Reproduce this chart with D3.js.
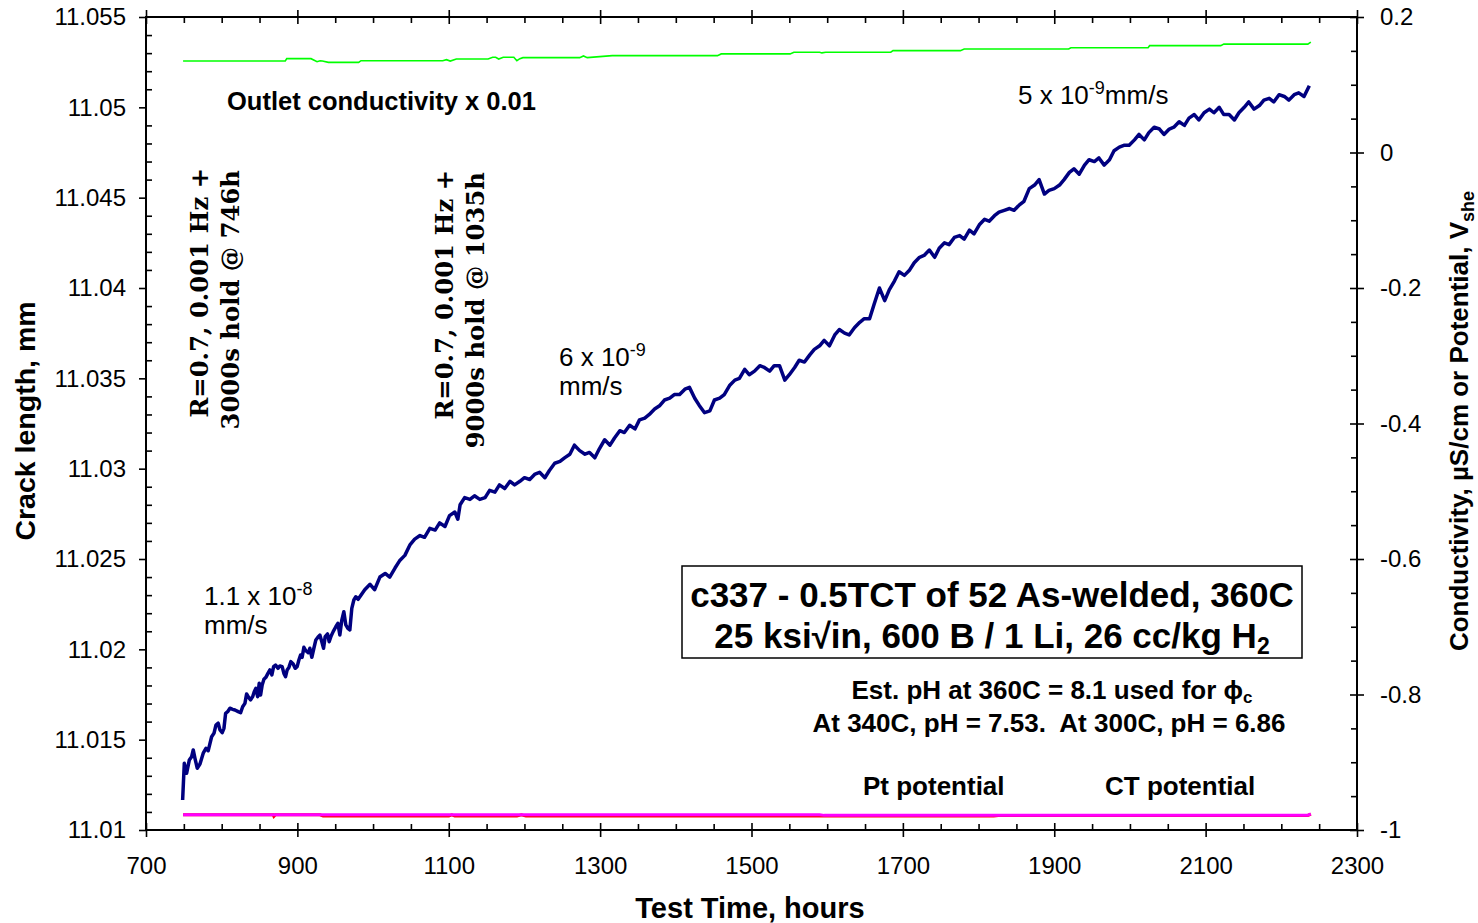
<!DOCTYPE html>
<html>
<head>
<meta charset="utf-8">
<script src="https://cdn.jsdelivr.net/npm/d3@7"></script>
<style>
  body { margin: 0; background: #fff; }
  svg { display: block; }
  text { font-family: "Liberation Sans", Arial, sans-serif; fill: #000; }
</style>
</head>
<body>
<svg id="chart" width="1478" height="923"></svg>
<script>
// ---- Crack length (mm) vs test time (hours) ----
const crackHours = [
  748.4, 750.6, 753.7, 757.2, 760.3, 762.4, 764.7, 767.7, 771.3, 775.6,
  779.2, 782.2, 786.7, 789.8, 792.4, 795.4, 797.7, 800.7, 803.0, 805.2,
  807.9, 810.9, 814.5, 817.5, 821.8, 825.0, 827.7, 830.7, 832.9, 835.6,
  838.2, 840.9, 843.0, 845.2, 847.5, 849.6, 851.4, 853.5, 855.8, 858.4,
  861.1, 863.7, 866.3, 868.6, 871.2, 874.3, 876.9, 879.9, 882.2, 884.4,
  886.5, 888.8, 891.4, 894.5, 897.1, 899.7, 902.0, 904.2, 906.3, 908.6,
  911.2, 914.3, 916.5, 919.1, 921.8, 924.4, 927.1, 929.7, 932.3, 934.6,
  936.7, 939.9, 942.0, 944.6, 947.3, 950.8, 953.5, 956.1, 958.7, 961.4,
  964.0, 966.7, 969.3, 971.9, 974.6, 977.2, 980.3,
  989, 996, 1002, 1009, 1016, 1022, 1029, 1035, 1042, 1049,
  1055, 1062, 1068, 1075, 1082, 1088, 1095, 1101, 1108, 1112,
  1115, 1121, 1128, 1134, 1141, 1148, 1154, 1161, 1167, 1174,
  1181, 1187, 1194, 1200, 1207, 1214, 1220, 1227, 1233, 1240,
  1247, 1253, 1260, 1266, 1273, 1280, 1286, 1293, 1299, 1306,
  1313, 1319, 1326, 1332, 1339, 1346, 1352, 1359, 1365, 1372,
  1379, 1385, 1392, 1398, 1405, 1412, 1418, 1425, 1431, 1438,
  1445, 1451, 1458, 1464, 1471, 1478, 1484, 1491, 1497, 1504,
  1511, 1517, 1524, 1530, 1537, 1544, 1550, 1557, 1563, 1570,
  1577, 1583, 1590, 1596, 1603, 1610, 1616, 1623, 1629, 1636,
  1643, 1649, 1656, 1662, 1669, 1676, 1682, 1689, 1695, 1702,
  1709, 1715, 1722, 1728, 1735, 1742, 1748, 1755, 1761, 1768,
  1775, 1781, 1788, 1794, 1801, 1808, 1814, 1821, 1827, 1834,
  1841, 1847, 1854, 1860, 1867, 1874, 1880, 1887, 1893, 1900,
  1907, 1913, 1920, 1926, 1933, 1940, 1946, 1953, 1959, 1966,
  1973, 1979, 1986, 1992, 1999, 2006, 2012, 2019, 2025, 2032,
  2039, 2045, 2052, 2058, 2065, 2072, 2078, 2085, 2091, 2098,
  2105, 2111, 2118, 2124, 2131, 2138, 2144, 2151, 2157, 2164,
  2171, 2177, 2184, 2190, 2197, 2204, 2210, 2217, 2223, 2230,
  2237
];
const crackLength = [
  11.01166, 11.01369, 11.01314, 11.01387, 11.01406, 11.01443, 11.01397, 11.01342, 11.01365, 11.01425,
  11.01452, 11.01439, 11.01516, 11.01535, 11.01581, 11.01591, 11.01554, 11.01539, 11.01563, 11.01646,
  11.01655, 11.01674, 11.01668, 11.01664, 11.01655, 11.01649, 11.01682, 11.01701, 11.01753, 11.01734,
  11.01720, 11.01738, 11.01765, 11.01784, 11.01738, 11.01812, 11.01747, 11.01803, 11.01834, 11.01845,
  11.01867, 11.01886, 11.01858, 11.01904, 11.01913, 11.01895, 11.01908, 11.01904, 11.01867, 11.01849,
  11.01886, 11.01900, 11.01932, 11.01919, 11.01895, 11.01904, 11.01941, 11.01969, 11.01956, 11.02011,
  11.01992, 11.01981, 11.02006, 11.01956, 11.02006, 11.02052, 11.02067, 11.02079, 11.02042, 11.02006,
  11.02070, 11.02085, 11.02042, 11.02074, 11.02098, 11.02125, 11.02144, 11.02079, 11.02162, 11.02208,
  11.02135, 11.02116, 11.02107, 11.02227, 11.02273, 11.02291, 11.02277,
  11.0233, 11.0236, 11.0233, 11.0240, 11.0242, 11.0240, 11.0245, 11.0249, 11.0252, 11.0258,
  11.0261, 11.0263, 11.0262, 11.0267, 11.0266, 11.0270, 11.0268, 11.0274, 11.0276, 11.0272,
  11.0280, 11.0284, 11.0283, 11.0285, 11.0283, 11.0284, 11.0288, 11.0287, 11.0291, 11.0289,
  11.0293, 11.0291, 11.0293, 11.0295, 11.0294, 11.0297, 11.0298, 11.0295, 11.0299, 11.0303,
  11.0304, 11.0306, 11.0308, 11.0313, 11.0310, 11.0308, 11.0309, 11.0306, 11.0311, 11.0316,
  11.0313, 11.0317, 11.0321, 11.0320, 11.0324, 11.0322, 11.0327, 11.0328, 11.0330, 11.0333,
  11.0335, 11.0338, 11.0339, 11.0341, 11.0341, 11.0344, 11.0345, 11.0339, 11.0335, 11.0331,
  11.0332, 11.0338, 11.0339, 11.0341, 11.0346, 11.0349, 11.0350, 11.0355, 11.0352, 11.0354,
  11.0357, 11.0356, 11.0354, 11.0357, 11.0357, 11.0349, 11.0352, 11.0356, 11.0360, 11.0359,
  11.0363, 11.0366, 11.0368, 11.0371, 11.0368, 11.0374, 11.0377, 11.0375, 11.0374, 11.0378,
  11.0381, 11.0383, 11.0383, 11.0391, 11.0400, 11.0393, 11.0399, 11.0404, 11.0409, 11.0407,
  11.0410, 11.0414, 11.0417, 11.0418, 11.0421, 11.0417, 11.0422, 11.0425, 11.0424, 11.0428,
  11.0429, 11.0427, 11.0432, 11.0430, 11.0435, 11.0438, 11.0437, 11.0440, 11.0442, 11.0443,
  11.0444, 11.0443, 11.0446, 11.0448, 11.0455, 11.0457, 11.0460, 11.0452, 11.0454, 11.0455,
  11.0457, 11.0460, 11.0464, 11.0466, 11.0463, 11.0468, 11.0471, 11.0470, 11.0472, 11.0468,
  11.0471, 11.0476, 11.0478, 11.0479, 11.0479, 11.0482, 11.0485, 11.0482, 11.0486, 11.0489,
  11.0488, 11.0485, 11.0488, 11.0489, 11.0492, 11.0490, 11.0494, 11.0496, 11.0493, 11.0497,
  11.0499, 11.0497, 11.0500, 11.0496, 11.0496, 11.0493, 11.0497, 11.0500, 11.0503, 11.0499,
  11.0501, 11.0504, 11.0505, 11.0503, 11.0507, 11.0506, 11.0504, 11.0507, 11.0508, 11.0506,
  11.0512
];

// ---- Outlet conductivity x 0.01 (right axis) ----
const condHours = [
  749, 884, 886, 918, 926, 930, 933, 941, 981, 984,
  1092, 1097, 1102, 1110, 1152, 1158, 1162, 1166, 1172, 1186,
  1190, 1194, 1198, 1273, 1278, 1283, 1316, 1455, 1460, 1551,
  1556, 1590, 1593, 1598, 1684, 1687, 1776, 1781, 1919, 1922,
  2024, 2026, 2120, 2124, 2235, 2239
];
const condValue = [
  0.1350, 0.1350, 0.1385, 0.1385, 0.1340, 0.1355, 0.1350, 0.1330, 0.1330, 0.1355,
  0.1355, 0.1370, 0.1350, 0.1380, 0.1380, 0.1405, 0.1405, 0.1380, 0.1405, 0.1405,
  0.1355, 0.1385, 0.1400, 0.1400, 0.1425, 0.1400, 0.1430, 0.1430, 0.1455, 0.1455,
  0.1480, 0.1480, 0.1470, 0.1480, 0.1480, 0.1503, 0.1503, 0.1528, 0.1528, 0.1547,
  0.1547, 0.1577, 0.1577, 0.1600, 0.1600, 0.1630
];

// ---- Electrochemical potentials, V(she) (right axis) ----
const ctHours = [749, 868, 869, 871, 930, 934, 1100, 1104, 1108, 1190, 1196, 1202, 1820, 1826, 2235, 2239];
const ctPotential = [-0.9776, -0.9776, -0.9800, -0.9776, -0.9776, -0.9795, -0.9795, -0.9776, -0.9795, -0.9795, -0.9776, -0.9795, -0.9795, -0.9785, -0.9785, -0.9765];
const ptHours = [749, 1590, 1596, 2235, 2239];
const ptPotential = [-0.9774, -0.9774, -0.9784, -0.9784, -0.9762];

// ---- Axis ticks ----
const xMajorTicks = [700, 900, 1100, 1300, 1500, 1700, 1900, 2100, 2300];
const xMinorTicks = [750, 800, 850, 950, 1000, 1050, 1150, 1200, 1250, 1350, 1400, 1450, 1550, 1600, 1650,
                     1750, 1800, 1850, 1950, 2000, 2050, 2150, 2200, 2250];
const xTickLabels = ["700", "900", "1100", "1300", "1500", "1700", "1900", "2100", "2300"];
const leftMajorTicks = [11.01, 11.015, 11.02, 11.025, 11.03, 11.035, 11.04, 11.045, 11.05, 11.055];
const leftTickLabels = ["11.01", "11.015", "11.02", "11.025", "11.03", "11.035", "11.04", "11.045", "11.05", "11.055"];
const leftMinorTicks = d3.range(11011, 11055).filter(v => v % 5 !== 0).map(v => v / 1000);
const rightMajorTicks = [-1, -0.8, -0.6, -0.4, -0.2, 0, 0.2];
const rightTickLabels = ["-1", "-0.8", "-0.6", "-0.4", "-0.2", "0", "0.2"];
const rightMinorTicks = [-0.95, -0.9, -0.85, -0.75, -0.7, -0.65, -0.55, -0.5, -0.45, -0.35, -0.3, -0.25,
                         -0.15, -0.1, -0.05, 0.05, 0.1, 0.15];

// ---- Layout ----
const plot = { left: 146, right: 1357, top: 17, bottom: 830 };
const svg = d3.select("#chart");

const x = d3.scaleLinear().domain([700, 2300]).range([plot.left, plot.right]);
const yL = d3.scaleLinear().domain([11.01, 11.055]).range([plot.bottom, plot.top]);
const yR = d3.scaleLinear().domain([-1, 0.2]).range([plot.bottom, plot.top]);

svg.append("rect").attr("width", 1478).attr("height", 923).attr("fill", "#fff");

// series
const zip = (a, b) => a.map((v, i) => [v, b[i]]);
const lineL = d3.line().x(d => x(d[0])).y(d => yL(d[1]));
const lineR = d3.line().x(d => x(d[0])).y(d => yR(d[1]));

svg.append("path").datum(zip(condHours, condValue)).attr("d", lineR)
  .attr("fill", "none").attr("stroke", "#00ff00").attr("stroke-width", 1.6);
svg.append("path").datum(zip(ctHours, ctPotential)).attr("d", lineR)
  .attr("fill", "none").attr("stroke", "#ff0000").attr("stroke-width", 3);
svg.append("path").datum(zip(ptHours, ptPotential)).attr("d", lineR)
  .attr("fill", "none").attr("stroke", "#ff00ff").attr("stroke-width", 3);
svg.append("path").datum(zip(crackHours, crackLength)).attr("d", lineL)
  .attr("fill", "none").attr("stroke", "#000080").attr("stroke-width", 3.5)
  .attr("stroke-linejoin", "round");

// axes
function axisGroup(gen, tx, ty) {
  const g = svg.append("g").attr("transform", `translate(${tx},${ty})`).call(gen);
  g.select(".domain").remove();
  g.selectAll(".tick line").attr("stroke", "#000").attr("stroke-width", 1.6);
  g.selectAll(".tick text").style("font-size", "24px").attr("fill", "#000");
  return g;
}
const noLabel = () => "";

// bottom
axisGroup(d3.axisBottom(x).tickValues(xMajorTicks).tickSize(7).tickPadding(20)
  .tickFormat((d, i) => xTickLabels[i]), 0, plot.bottom);
axisGroup(d3.axisTop(x).tickValues(xMajorTicks).tickSize(7).tickFormat(noLabel), 0, plot.bottom);
axisGroup(d3.axisTop(x).tickValues(xMinorTicks).tickSize(6).tickFormat(noLabel), 0, plot.bottom);
// top
axisGroup(d3.axisTop(x).tickValues(xMajorTicks).tickSize(7).tickFormat(noLabel), 0, plot.top);
axisGroup(d3.axisBottom(x).tickValues(xMajorTicks).tickSize(7).tickFormat(noLabel), 0, plot.top);
axisGroup(d3.axisBottom(x).tickValues(xMinorTicks).tickSize(6).tickFormat(noLabel), 0, plot.top);
// left
axisGroup(d3.axisLeft(yL).tickValues(leftMajorTicks).tickSize(7).tickPadding(13)
  .tickFormat((d, i) => leftTickLabels[i]), plot.left, 0);
axisGroup(d3.axisRight(yL).tickValues(leftMinorTicks).tickSize(6).tickFormat(noLabel), plot.left, 0);
// right
axisGroup(d3.axisRight(yR).tickValues(rightMajorTicks).tickSize(7).tickPadding(16)
  .tickFormat((d, i) => rightTickLabels[i]), plot.right, 0);
axisGroup(d3.axisLeft(yR).tickValues(rightMajorTicks).tickSize(7).tickFormat(noLabel), plot.right, 0);
axisGroup(d3.axisLeft(yR).tickValues(rightMinorTicks).tickSize(6).tickFormat(noLabel), plot.right, 0);

// frame
svg.append("rect")
  .attr("x", plot.left).attr("y", plot.top)
  .attr("width", plot.right - plot.left).attr("height", plot.bottom - plot.top)
  .attr("fill", "none").attr("stroke", "#000").attr("stroke-width", 2);

// axis titles
svg.append("text").attr("transform", "translate(35,421) rotate(-90)")
  .attr("text-anchor", "middle").style("font-size", "28.5px").style("font-weight", "bold")
  .text("Crack length, mm");
svg.append("text").attr("x", 750).attr("y", 918)
  .attr("text-anchor", "middle").style("font-size", "29px").style("font-weight", "bold")
  .text("Test Time, hours");
const rt = svg.append("text").attr("transform", "translate(1468,421) rotate(-90)")
  .attr("text-anchor", "middle").style("font-size", "26px").style("font-weight", "bold");
rt.append("tspan").text("Conductivity, \u00b5S/cm or Potential, V");
rt.append("tspan").attr("dy", 6).style("font-size", "18px").text("she");

// series labels
const bold = (t, px, py, size = 26, anchor = "start") =>
  svg.append("text").attr("x", px).attr("y", py).attr("text-anchor", anchor)
    .style("font-size", size + "px").style("font-weight", "bold").text(t);

bold("Outlet conductivity x 0.01", 227, 110, 25.5);
bold("Pt potential", 863, 795);
bold("CT potential", 1105, 795);

// crack growth rate labels
function rate(px, py, mant, exp, tail, tailOnNewLine) {
  const t = svg.append("text").attr("x", px).attr("y", py).style("font-size", "26px");
  t.append("tspan").text(mant + " x 10");
  t.append("tspan").attr("dy", -10).style("font-size", "18px").text(exp);
  if (tailOnNewLine) {
    svg.append("text").attr("x", px).attr("y", py + 29).style("font-size", "26px").text(tail);
  } else {
    t.append("tspan").attr("dy", 10).text(tail);
  }
}
rate(204, 605, "1.1", "-8", "mm/s", true);
rate(559, 366, "6", "-9", "mm/s", true);
rate(1018, 104, "5", "-9", "mm/s", false);

// loading condition notes
function note(px, py, t) {
  svg.append("text").attr("transform", `translate(${px},${py}) rotate(-90)`)
    .attr("text-anchor", "end")
    .style("font-family", "'DejaVu Serif', serif").style("font-weight", "bold")
    .style("font-size", "24.3px").text(t);
}
note(208, 168, "R=0.7, 0.001 Hz +");
note(239, 170, "3000s hold @ 746h");
note(453, 170, "R=0.7, 0.001 Hz +");
note(484, 172, "9000s hold @ 1035h");

// specimen box
svg.append("rect").attr("x", 682).attr("y", 566).attr("width", 620).attr("height", 92)
  .attr("fill", "#fff").attr("stroke", "#000").attr("stroke-width", 1.5);
bold("c337 - 0.5TCT of 52 As-welded, 360C", 992, 607, 35, "middle");
const l2 = bold("", 992, 648, 35, "middle");
l2.append("tspan").text("25 ksi\u221ain, 600 B / 1 Li, 26 cc/kg H");
l2.append("tspan").attr("dy", 6).style("font-size", "23px").text("2");

const p1 = bold("", 1052, 699, 26, "middle");
p1.append("tspan").text("Est. pH at 360C = 8.1 used for \u03d5");
p1.append("tspan").attr("dy", 4).style("font-size", "17px").text("c");
bold("At 340C, pH = 7.53.  At 300C, pH = 6.86", 1049, 732, 26, "middle").attr("xml:space", "preserve");
</script>
</body>
</html>
